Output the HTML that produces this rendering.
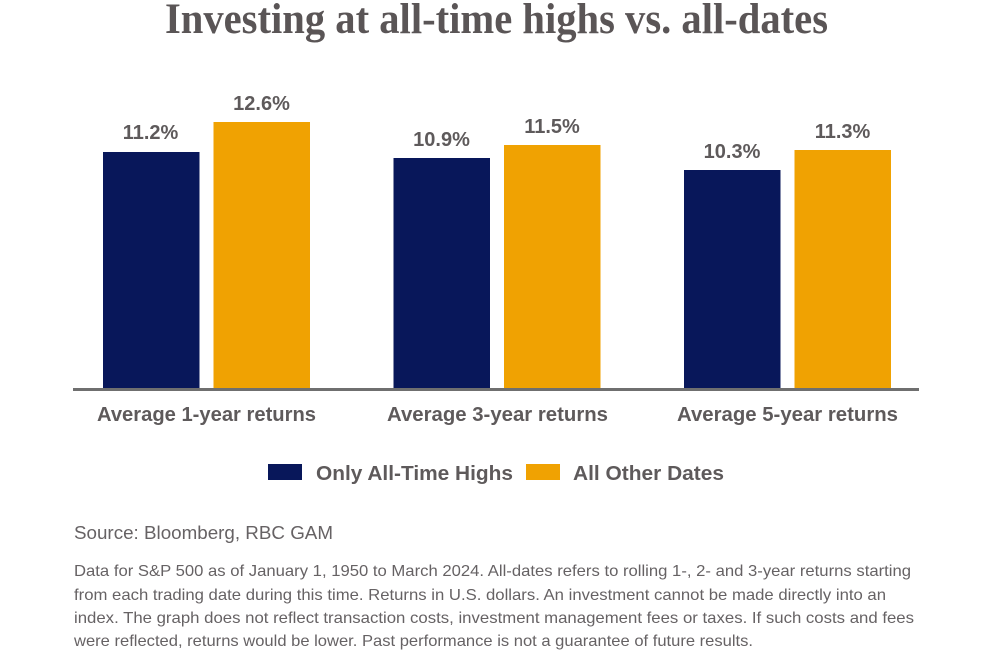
<!DOCTYPE html>
<html>
<head>
<meta charset="utf-8">
<style>
  html, body { margin: 0; padding: 0; background: #ffffff; }
  body { width: 994px; height: 650px; overflow: hidden; }
  svg { display: block; }
</style>
</head>
<body>
<svg width="994" height="650" viewBox="0 0 994 650" xmlns="http://www.w3.org/2000/svg">
  <rect x="0" y="0" width="994" height="650" fill="#ffffff"/>

  <!-- Title -->
  <text x="165" y="33" font-family="'Liberation Serif', serif" font-weight="bold" font-size="43" fill="#5a5556" textLength="663" lengthAdjust="spacingAndGlyphs">Investing at all-time highs vs. all-dates</text>

  <!-- Bars -->
  <g>
    <rect x="103" y="152" width="96.5" height="236" fill="#08175a"/>
    <rect x="213.5" y="122" width="96.5" height="266" fill="#f0a202"/>

    <rect x="393.5" y="158" width="96.5" height="230" fill="#08175a"/>
    <rect x="504" y="145" width="96.5" height="243" fill="#f0a202"/>

    <rect x="684" y="170" width="96.5" height="218" fill="#08175a"/>
    <rect x="794.5" y="150" width="96.5" height="238" fill="#f0a202"/>
  </g>

  <!-- Value labels -->
  <g font-family="'Liberation Sans', sans-serif" font-weight="bold" font-size="20" fill="#5e5a5b" text-anchor="middle">
    <text x="150.5" y="139">11.2%</text>
    <text x="261.5" y="110">12.6%</text>
    <text x="441.5" y="146">10.9%</text>
    <text x="552" y="133">11.5%</text>
    <text x="732" y="158">10.3%</text>
    <text x="842.5" y="138">11.3%</text>
  </g>

  <!-- Axis line -->
  <rect x="73" y="388" width="846" height="3" fill="#6f6f6f"/>

  <!-- Category labels -->
  <g font-family="'Liberation Sans', sans-serif" font-weight="bold" font-size="20" fill="#5e5a5b">
    <text x="97" y="421" textLength="219" lengthAdjust="spacingAndGlyphs">Average 1-year returns</text>
    <text x="387" y="421" textLength="221" lengthAdjust="spacingAndGlyphs">Average 3-year returns</text>
    <text x="677" y="421" textLength="221" lengthAdjust="spacingAndGlyphs">Average 5-year returns</text>
  </g>

  <!-- Legend -->
  <rect x="268" y="464" width="34" height="16" fill="#08175a"/>
  <text x="316" y="480" font-family="'Liberation Sans', sans-serif" font-weight="bold" font-size="20" fill="#5e5a5b" textLength="197" lengthAdjust="spacingAndGlyphs">Only All-Time Highs</text>
  <rect x="526" y="464" width="34" height="16" fill="#f0a202"/>
  <text x="573" y="480" font-family="'Liberation Sans', sans-serif" font-weight="bold" font-size="20" fill="#5e5a5b" textLength="151" lengthAdjust="spacingAndGlyphs">All Other Dates</text>

  <!-- Source -->
  <text x="74" y="539" font-family="'Liberation Sans', sans-serif" font-size="18" fill="#666264" textLength="259" lengthAdjust="spacingAndGlyphs">Source: Bloomberg, RBC GAM</text>

  <!-- Footnote -->
  <g font-family="'Liberation Sans', sans-serif" font-size="16" fill="#666264">
    <text x="74" y="576" textLength="837" lengthAdjust="spacingAndGlyphs">Data for S&amp;P 500 as of January 1, 1950 to March 2024. All-dates refers to rolling 1-, 2- and 3-year returns starting</text>
    <text x="74" y="600" textLength="812" lengthAdjust="spacingAndGlyphs">from each trading date during this time. Returns in U.S. dollars. An investment cannot be made directly into an</text>
    <text x="74" y="623" textLength="840" lengthAdjust="spacingAndGlyphs">index. The graph does not reflect transaction costs, investment management fees or taxes. If such costs and fees</text>
    <text x="74" y="646" textLength="679" lengthAdjust="spacingAndGlyphs">were reflected, returns would be lower. Past performance is not a guarantee of future results.</text>
  </g>
</svg>
</body>
</html>
